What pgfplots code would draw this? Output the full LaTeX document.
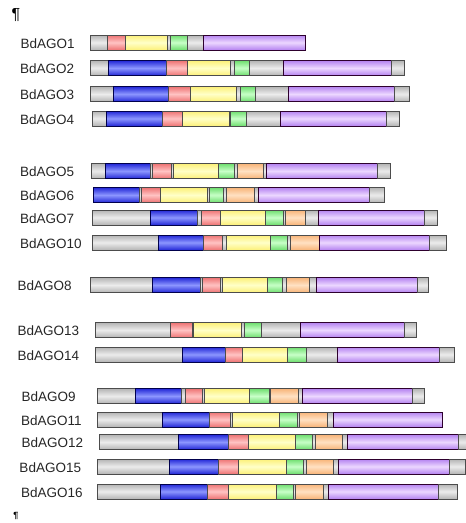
\documentclass[border=0pt]{standalone}
\usepackage{pgfplots}
\usepackage{pgfplotstable}
\pgfplotsset{compat=1.18}
\usepackage{fontspec}
\setmainfont{Liberation Sans}

\definecolor{gE}{RGB}{180,180,180}\definecolor{gM}{RGB}{236,236,236}
\definecolor{bE}{RGB}{35,40,215}\definecolor{bM}{RGB}{140,150,255}
\definecolor{rE}{RGB}{238,115,115}\definecolor{rM}{RGB}{255,195,195}
\definecolor{yE}{RGB}{252,240,120}\definecolor{yM}{RGB}{255,255,200}
\definecolor{nE}{RGB}{110,222,110}\definecolor{nM}{RGB}{200,255,200}
\definecolor{oE}{RGB}{248,180,120}\definecolor{oM}{RGB}{255,225,195}
\definecolor{pE}{RGB}{180,130,240}\definecolor{pM}{RGB}{236,215,255}

\tikzset{
 dom0/.style={draw=black!70, top color=gE, bottom color=gE, middle color=gM},
 dom1/.style={draw=black!70!blue, top color=bE, bottom color=bE, middle color=bM},
 dom2/.style={draw=black!70, top color=rE, bottom color=rE, middle color=rM},
 dom3/.style={draw=black!70, top color=yE, bottom color=yE, middle color=yM},
 dom4/.style={draw=black!70, top color=nE, bottom color=nE, middle color=nM},
 dom5/.style={draw=black!70, top color=oE, bottom color=oE, middle color=oM},
 dom6/.style={draw=black!65!violet, top color=pE, bottom color=pE, middle color=pM},
}

% y = row centre, x1..x2 = segment, c = domain class
\pgfplotstableread{
y x1 x2 c
42.5 90 107 0
42.5 107 125 2
42.5 125 167 3
42.5 167 170 0
42.5 170 187 4
42.5 187 203 0
42.5 203 305 6
68 90 108 0
68 108 166 1
68 166 187 2
68 187 230 3
68 230 234 0
68 234 249 4
68 249 283 0
68 283 391 6
68 391 404 0
94 90 113 0
94 113 168 1
94 168 190 2
94 190 236 3
94 236 240 0
94 240 255 4
94 255 288 0
94 288 394 6
94 394 409 0
118.5 92 106 0
118.5 106 162 1
118.5 162 182 2
118.5 182 229 3
118.5 229 230 0
118.5 230 246 4
118.5 246 280 0
118.5 280 386 6
118.5 386 399 0
171 91 105 0
171 105 150 1
171 150 152 0
171 152 171 2
171 171 173 0
171 173 218 3
171 218 234 4
171 234 237 0
171 237 263 5
171 263 266 0
171 266 377 6
171 377 390 0
195 93 139 1
195 139 141 0
195 141 160 2
195 160 207 3
195 207 209 0
195 209 223 4
195 223 226 0
195 226 254 5
195 254 258 0
195 258 369 6
195 369 384 0
217.5 92 150 0
217.5 150 197 1
217.5 197 201 0
217.5 201 220 2
217.5 220 265 3
217.5 265 283 4
217.5 283 285 0
217.5 285 305 5
217.5 305 318 0
217.5 318 424 6
217.5 424 437 0
242.5 92 158 0
242.5 158 203 1
242.5 203 222 2
242.5 222 226 0
242.5 226 270 3
242.5 270 287 4
242.5 287 290 0
242.5 290 319 5
242.5 319 429 6
242.5 429 446 0
285 90 152 0
285 152 200 1
285 200 202 0
285 202 220 2
285 220 222 0
285 222 267 3
285 267 282 4
285 282 286 0
285 286 309 5
285 309 316 0
285 316 417 6
285 417 428 0
330 95 170 0
330 170 192 2
330 192 193 0
330 193 241 3
330 241 244 0
330 244 261 4
330 261 300 0
330 300 404 6
330 404 416 0
354.5 95 182 0
354.5 182 225 1
354.5 225 242 2
354.5 242 287 3
354.5 287 306 4
354.5 306 337 0
354.5 337 439 6
354.5 439 454 0
396 97 135 0
396 135 181 1
396 181 185 0
396 185 202 2
396 202 204 0
396 204 249 3
396 249 269 4
396 269 270 0
396 270 298 5
396 298 302 0
396 302 412 6
396 412 424 0
419.5 97 162 0
419.5 162 209 1
419.5 209 230 2
419.5 230 232 0
419.5 232 279 3
419.5 279 297 4
419.5 297 299 0
419.5 299 327 5
419.5 327 333 0
419.5 333 442 6
442 99 178 0
442 178 228 1
442 228 248 2
442 248 295 3
442 295 312 4
442 312 315 0
442 315 342 5
442 342 347 0
442 347 458 6
442 458 470 0
466.5 97 169 0
466.5 169 218 1
466.5 218 238 2
466.5 238 286 3
466.5 286 303 4
466.5 303 306 0
466.5 306 333 5
466.5 333 338 0
466.5 338 449 6
466.5 449 465 0
491.5 97 160 0
491.5 160 207 1
491.5 207 228 2
491.5 228 276 3
491.5 276 293 4
491.5 293 295 0
491.5 295 323 5
491.5 323 328 0
491.5 328 438 6
491.5 438 457 0
}\segs

\begin{document}
\begin{tikzpicture}
\begin{axis}[scale only axis, width=466pt, height=523pt,
  xmin=0, xmax=466, ymin=0, ymax=523, y dir=reverse, hide axis]
\draw[draw=none] (rel axis cs:0,0) rectangle (rel axis cs:1,1);
\pgfplotstablegetrowsof{\segs}
\pgfmathtruncatemacro{\nrows}{\pgfplotsretval-1}
\pgfplotsforeachungrouped \i in {0,...,\nrows}{%
  \pgfplotstablegetelem{\i}{y}\of{\segs}\let\yy\pgfplotsretval
  \pgfplotstablegetelem{\i}{x1}\of{\segs}\let\xa\pgfplotsretval
  \pgfplotstablegetelem{\i}{x2}\of{\segs}\let\xb\pgfplotsretval
  \pgfplotstablegetelem{\i}{c}\of{\segs}\let\cc\pgfplotsretval
  \pgfmathsetmacro\ylo{\yy-7.5}%
  \pgfmathsetmacro\yhi{\yy+7.5}%
  \edef\temp{\noexpand\addplot[dom\cc, line width=1pt, mark=none, forget plot] coordinates {(\xa,\ylo) (\xb,\ylo) (\xb,\yhi) (\xa,\yhi)} -- cycle;}%
  \temp
}
\tikzset{lab/.style={anchor=west, inner sep=0pt, font=\fontsize{13.5}{15}\selectfont, text=black!85}}
\node[lab] at (axis cs:20.5,43.5) {BdAGO1};
\node[lab] at (axis cs:20,69) {BdAGO2};
\node[lab] at (axis cs:20,95) {BdAGO3};
\node[lab] at (axis cs:20,120) {BdAGO4};
\node[lab] at (axis cs:20,172) {BdAGO5};
\node[lab] at (axis cs:20,196) {BdAGO6};
\node[lab] at (axis cs:20,218.5) {BdAGO7};
\node[lab] at (axis cs:20,243.5) {BdAGO10};
\node[lab] at (axis cs:17.3,286) {BdAGO8};
\node[lab] at (axis cs:17.5,331) {BdAGO13};
\node[lab] at (axis cs:17.3,355.5) {BdAGO14};
\node[lab] at (axis cs:21.5,397) {BdAGO9};
\node[lab] at (axis cs:21,420.5) {BdAGO11};
\node[lab] at (axis cs:21.5,443) {BdAGO12};
\node[lab] at (axis cs:19.3,467.5) {BdAGO15};
\node[lab] at (axis cs:21,492.5) {BdAGO16};
\node[inner sep=0pt, font=\fontsize{16}{17}\selectfont] at (axis cs:16,15) {¶};
\node[inner sep=0pt, font=\bfseries\fontsize{9}{10}\selectfont] at (axis cs:16,516) {¶};
\end{axis}
\end{tikzpicture}
\end{document}
